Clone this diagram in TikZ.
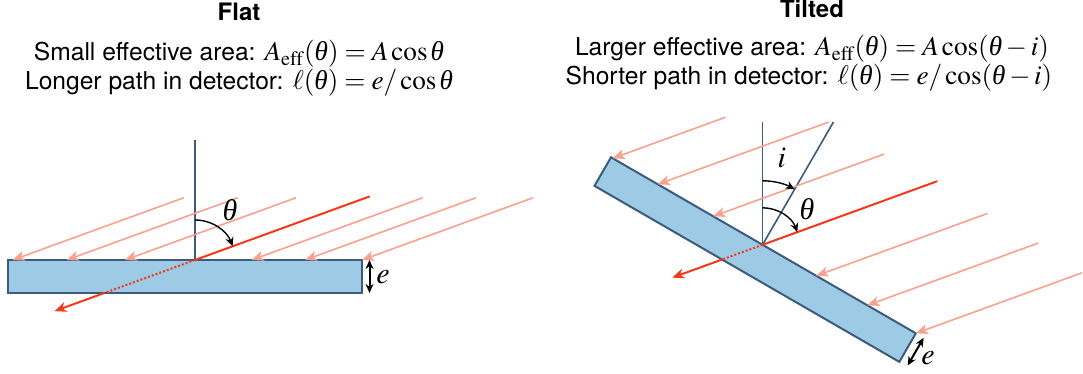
\documentclass[tikz,border=0pt]{standalone}
\usepackage{mathptmx}
\usepackage[no-math]{fontspec}
\setmainfont{TeX Gyre Heros}
\newfontfamily\serit{Liberation Serif}
\newcommand{\tht}{\mbox{\serit\itshape θ}}
\newcommand{\mth}[1]{{\fontsize{13.6}{15}\selectfont$#1$}}
\usepackage{tikz}
\usetikzlibrary{arrows.meta,calc}
\definecolor{raylight}{HTML}{F7A291}
\definecolor{rayred}{HTML}{F5371B}
\definecolor{detfill}{HTML}{9DCBE6}
\definecolor{detline}{HTML}{3D5B7A}
\tikzset{
  ray/.style={raylight,line width=0.8pt,-{Stealth[length=6pt,width=5pt,inset=1.5pt]}},
  mainray/.style={rayred,line width=1pt},
  det/.style={draw=detline,fill=detfill,line width=1pt},
  nrm/.style={detline,line width=0.8pt},
  ang/.style={black,line width=0.7pt,-{Stealth[length=4.5pt,width=4pt]}},
  thk/.style={black,line width=1pt,{Stealth[length=4.5pt,width=4pt]}-{Stealth[length=4.5pt,width=4pt]}},
  ttl/.style={font=\fontsize{12}{14}\selectfont\bfseries,anchor=base,inner sep=0pt},
  txt/.style={font=\fontsize{12.3}{14}\selectfont,anchor=base,inner sep=0pt},
  lbl/.style={font=\fontsize{15}{17}\selectfont,inner sep=0pt},
}
\begin{document}
\begin{tikzpicture}[x=0.5pt,y=0.5pt]
\useasboundingbox (0,0) rectangle (1083,374);

% headings
\node[ttl] (flat) at (239,353) {Flat};
\node[txt] (flatA) at (239,313) {Small effective area: \mth{A_{\mathrm{eff}}(\tht)=A\cos\tht}};
\node[txt] (flatL) at (239,284.7) {Longer path in detector: \mth{\ell(\tht)=e/\cos\tht}};
\node[ttl] (tilt) at (812,356.6) {Tilted};
\node[txt] (tiltA) at (812,318) {Larger effective area: \mth{A_{\mathrm{eff}}(\tht)=A\cos(\tht-i)}};
\node[txt] (tiltL) at (809,289) {Shorter path in detector: \mth{\ell(\tht)=e/\cos(\tht-i)}};

% flat detector
\draw[det] (8,114) rectangle (362,81);
\coordinate (P1) at (195,114);
\draw[nrm] (P1) -- (195,234);
\draw[ray] ($(12.7,114)+(20:182)$) -- (12.7,114);
\draw[ray] ($(66.7,114)+(20:182)$) -- (66.7,114);
\draw[ray] ($(125,114)+(20:182)$) -- (125,114);
\draw[ray] ($(251.7,114)+(20:182)$) -- (251.7,114);
\draw[ray] ($(305,114)+(20:182)$) -- (305,114);
\draw[ray] ($(362,114)+(20:182)$) -- (362,114);
\draw[mainray] ($(P1)+(20:186)$) -- (P1);
\draw[mainray,dash pattern=on 1pt off 1pt] (P1) -- ($(P1)+(200:96.5)$) coordinate (X1);
\draw[mainray,-{Stealth[length=6pt,width=5pt]}] (X1) -- ($(P1)+(200:149.5)$);
\draw[ang] ($(P1)+(90:40)$) arc[start angle=90,end angle=20,radius=40];
\node[lbl] (th1) at (230,164) {\tht};
\draw[thk] (369.5,114) -- (369.5,81);
\node[lbl] (e1) at (383,97) {$e$};

% tilted detector
\begin{scope}[shift={(611,216.7)},rotate=-30]
  \draw[det] (0,0) rectangle (352,-33);
  \coordinate (P2) at (175,0);
  \coordinate (t1) at (2,0);
  \coordinate (t2) at (54,0);
  \coordinate (t3) at (118,0);
  \coordinate (t4) at (237,0);
  \coordinate (t5) at (296,0);
  \coordinate (t6) at (352,0);
  \draw[thk] (361,0) -- (361,-32);
\end{scope}
\draw[nrm] (P2) -- ++(0,122.8);
\draw[nrm] (P2) -- ++(60:141.8);
\draw[ray] ($(t1)+(20:120)$) -- (t1);
\draw[ray] ($(t2)+(20:182)$) -- (t2);
\draw[ray] ($(t3)+(20:182)$) -- (t3);
\draw[ray] ($(t4)+(20:182)$) -- (t4);
\draw[ray] ($(t5)+(20:182)$) -- (t5);
\draw[ray] ($(t6)+(20:177)$) -- (t6);
\draw[mainray] ($(P2)+(20:186)$) -- (P2);
\draw[mainray,dash pattern=on 1pt off 1pt] (P2) -- ($(P2)+(200:43.1)$) coordinate (X2);
\draw[mainray,-{Stealth[length=6pt,width=5pt]}] (X2) -- ($(P2)+(200:96)$);
\draw[ang] ($(P2)+(90:64)$) arc[start angle=90,end angle=60,radius=64];
\draw[ang] ($(P2)+(90:37)$) arc[start angle=90,end angle=20,radius=37];
\node[lbl] (i2) at (781.7,215.7) {$i$};
\node[lbl] (th2) at (807,164.7) {\tht};
\node[lbl] (e2) at (928,15.7) {$e$};
\end{tikzpicture}
\end{document}
